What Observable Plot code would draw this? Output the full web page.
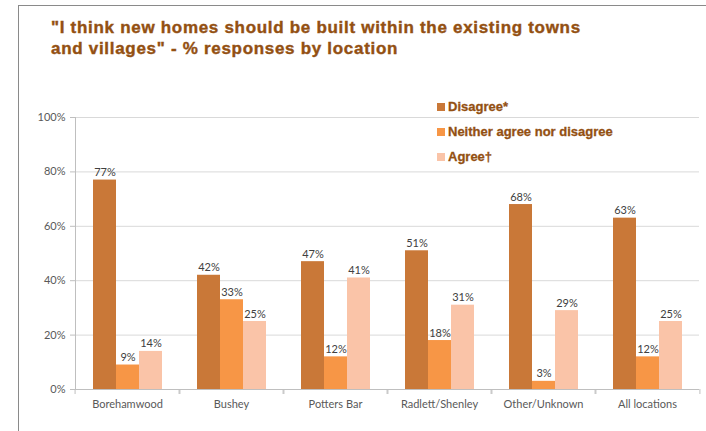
<!DOCTYPE html>
<html><head><meta charset="utf-8">
<script src="https://cdn.jsdelivr.net/npm/d3@7"></script>
<script src="https://cdn.jsdelivr.net/npm/@observablehq/plot@0.6"></script>
<style>
body{margin:0;background:#fff;}
#wrap{position:relative;width:706px;height:431px;overflow:hidden;background:#fff;}
#border{position:absolute;left:18px;top:5px;width:720px;height:460px;border-left:1.5px solid #8a8a8a;border-top:1.5px solid #8a8a8a;}
#title{position:absolute;left:51px;top:17px;font:bold 17px "Liberation Sans",Arial,sans-serif;line-height:21px;letter-spacing:0.7px;-webkit-text-stroke:0.4px #935012;color:#935012;white-space:nowrap;}
#chart{position:absolute;left:0;top:80px;}
#legend{position:absolute;left:437px;top:94px;font:bold 13px "Liberation Sans",Arial,sans-serif;-webkit-text-stroke:0.3px #935012;color:#935012;}
.item{display:flex;align-items:center;height:25px;}
.sw{width:8px;height:8px;margin-right:3px;}
</style></head>
<body>
<div id="wrap">
  <div id="border"></div>
  <div id="title">"I think new homes should be built within the existing towns<br>and villages" - % responses by location</div>
  <div id="chart"></div>
  <div id="legend"></div>
</div>
<script>
const categories = ["Borehamwood", "Bushey", "Potters Bar", "Radlett/Shenley", "Other/Unknown", "All locations"];
const series = ["Disagree*", "Neither agree nor disagree", "Agree\u2020"];
const disagree = [77, 42, 47, 51, 68, 63];
const neither = [9, 33, 12, 18, 3, 12];
const agree = [14, 25, 41, 31, 29, 25];
const yTicks = [0, 20, 40, 60, 80, 100];
const colors = ["#C97838", "#F79646", "#FAC4A8"];

const values = [disagree, neither, agree];
const data = [];
categories.forEach((c, i) => {
  series.forEach((s, j) => data.push({category: c, series: s, value: values[j][i]}));
});

const W = 706, mL = 72, mR = 5;
const step = (W - mL - mR) / categories.length;

const chart = Plot.plot({
  width: W,
  height: 351,
  marginLeft: mL,
  marginRight: mR,
  marginTop: 37,
  marginBottom: 42,
  style: {fontFamily: "Lato, 'Open Sans', sans-serif", fontSize: "11px", background: "transparent"},
  fx: {domain: categories, paddingInner: 0, paddingOuter: 0, label: null},
  x: {domain: series, paddingInner: 0, paddingOuter: 0.73, axis: null},
  y: {domain: [0, 100], label: null},
  color: {domain: series, range: colors},
  marks: [
    Plot.gridY(yTicks.filter(d => d > 0), {stroke: "#d9d9d9", strokeOpacity: 1}),
    Plot.barY(data, {fx: "category", x: "series", y: "value", fill: "series"}),
    Plot.text(data, {fx: "category", x: "series", y: "value", text: d => d.value + "%", lineAnchor: "bottom", dy: -4, fill: "#404040", fontSize: 11}),
    Plot.ruleY([0], {stroke: "#bfbfbf"}),
    Plot.frame({anchor: "left", facetAnchor: "left", stroke: "#bfbfbf"}),
    Plot.axisY(yTicks, {tickSize: 5, tickPadding: 5, stroke: "#bfbfbf", fill: "#595959", tickFormat: d => d + "%", label: null, fontSize: 11}),
    Plot.axisFx({anchor: "bottom", tickSize: 0, tickPadding: 11, fill: "#595959", label: null, fontSize: 11}),
    Plot.axisFx({anchor: "bottom", tickSize: 5, stroke: "#bfbfbf", tickFormat: () => "", label: null, dx: -step / 2}),
    Plot.axisFx({anchor: "bottom", tickSize: 5, stroke: "#bfbfbf", tickFormat: () => "", label: null, dx: step / 2})
  ]
});
document.getElementById("chart").appendChild(chart);

const legend = document.getElementById("legend");
series.forEach((s, j) => {
  const item = document.createElement("div");
  item.className = "item";
  const sw = document.createElement("span");
  sw.className = "sw";
  sw.style.background = colors[j];
  const t = document.createElement("span");
  t.textContent = s;
  item.appendChild(sw);
  item.appendChild(t);
  legend.appendChild(item);
});
</script>
</body></html>
